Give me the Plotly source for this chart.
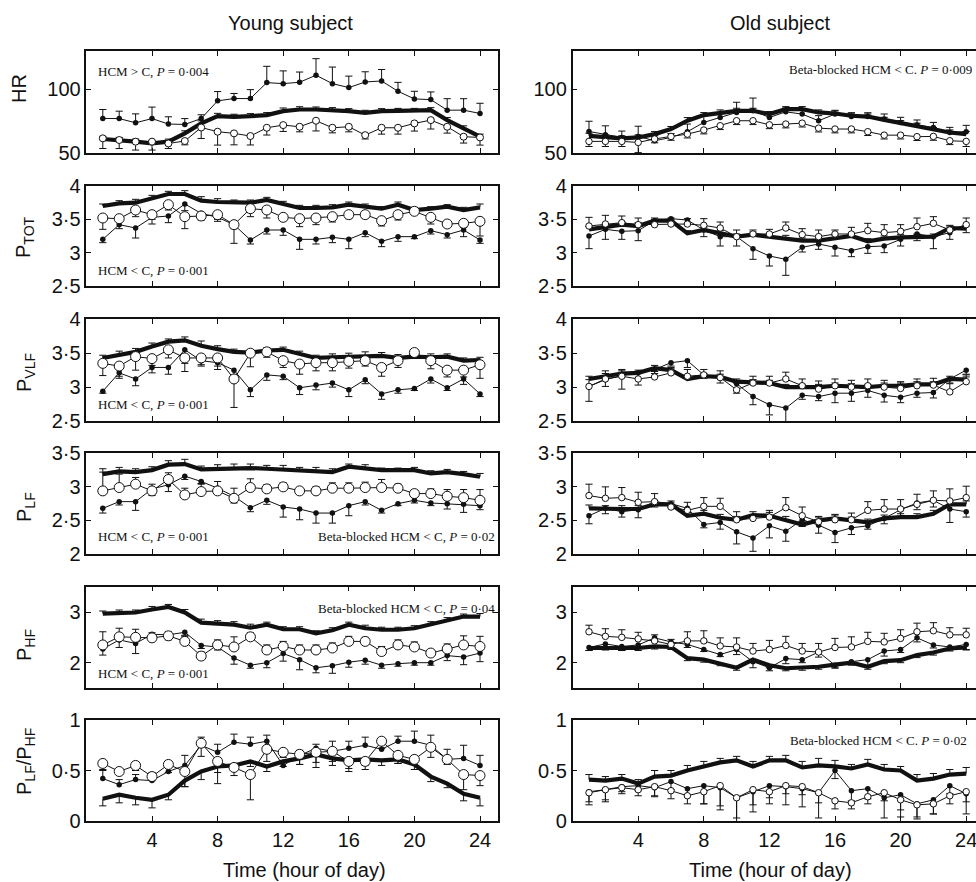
import plotly.graph_objects as go

HOURS = list(range(1, 25))
X_TICKS = [4, 8, 12, 16, 20, 24]
X_TICK_TEXT = ["4", "8", "12", "16", "20", "24"]

COLUMN_TITLES = ["Young subject", "Old subject"]
X_TITLE = "Time (hour of day)"
ROW_TITLES = ["HR", "P<sub>TOT</sub>", "P<sub>VLF</sub>", "P<sub>LF</sub>", "P<sub>HF</sub>",
              "P<sub>LF</sub>/P<sub>HF</sub>"]
Y_TICKS = [[50, 100], [2.5, 3, 3.5, 4], [2.5, 3, 3.5, 4], [2, 2.5, 3, 3.5], [2, 3], [0, 0.5, 1]]
Y_TICK_TEXT = [["50", "100"], ["2·5", "3", "3·5", "4"], ["2·5", "3", "3·5", "4"],
               ["2", "2·5", "3", "3·5"], ["2", "3"], ["0", "0·5", "1"]]
Y_RANGES = [[50, 130], [2.5, 4], [2.5, 4], [2, 3.5], [1.5, 3.5], [0, 1]]

# ---------------- HR ----------------
YOUNG_HR_C = [61, 60.2, 58.9, 57.5, 58.9, 65.4, 73.2, 78.9, 78.4, 78.9, 79.7, 82.8, 84.1, 84.1, 83.6, 82.8, 81.5, 82.8, 83, 83, 83.6, 75.8, 69.3, 62.8]
YOUNG_HR_C_ERR = [1.8, 2, 2, 2, 2, 2, 2, 2.2, 2, 2, 2, 2.5, 2.2, 2, 2, 2, 2, 2, 2, 2, 2, 2, 2, 2]
YOUNG_HR_HCM = [77.1, 77, 73.7, 77, 72.7, 72.4, 77, 90.9, 92.7, 92.7, 105.2, 104.4, 105.5, 111, 104.4, 101.3, 105.7, 106.5, 98.4, 92.4, 91.9, 83.6, 83.6, 81]
YOUNG_HR_HCM_ERR = [7, 5.8, 7, 9, 5.7, 4.6, 3, 7.3, 4, 7, 12.8, 10, 8, 13, 13, 9, 8, 9, 7, 6, 6, 9, 9, 8]
YOUNG_HR_BB = [61.5, 60.2, 58.9, 58.9, 57.5, 59.4, 70, 66.7, 65.4, 63.3, 69.8, 71.9, 70.6, 75.3, 69.8, 70.6, 64, 69.8, 69.8, 73.2, 75.8, 70.6, 62.8, 62.2]
YOUNG_HR_BB_ERR = [8, 6.7, 6.6, 6.6, 4, 3, 8.6, 10.5, 9, 7, 5.7, 5, 4, 8, 4, 4, 3, 5, 5, 6, 7, 5, 5, 6]

OLD_HR_C = [63.5, 62.2, 61.5, 62.2, 64.8, 68.8, 75.3, 79.7, 81.8, 83.1, 83.1, 80.5, 84.4, 84.4, 81.8, 81, 79.2, 78.6, 76, 73.4, 71.4, 68, 66.1, 64.8]
OLD_HR_C_ERR = [2, 2, 2, 2, 2, 2, 2.5, 2, 2, 2, 2, 2, 2, 2, 2, 2, 2, 2, 2, 2, 2, 2, 2, 2]
OLD_HR_HCM = [66.9, 64.3, 62.2, 63, 59.6, 62.2, 66.7, 74, 77.9, 81.8, 83.1, 77.9, 82.3, 80.5, 75.3, 80.5, 78.6, 78.6, 76.6, 74, 71.9, 70, 66.1, 66.7]
OLD_HR_HCM_ERR = [8, 7, 5, 8, 4, 3, 6, 5, 3, 8, 10, 4, 3, 3, 4, 3, 3, 3, 4, 4, 4, 4, 4, 5]
OLD_HR_BB = [59.1, 59.1, 59.1, 58.3, 61, 63, 64.8, 68, 71.4, 75.3, 75.3, 72.1, 72.7, 73.4, 69.5, 68.8, 68.8, 66.7, 64, 64, 62.8, 63, 59.6, 59.1]
OLD_HR_BB_ERR = [4, 4, 4, 8, 3, 3, 3, 3, 3, 3, 3, 3, 3, 3, 3, 3, 3, 3, 3, 3, 3, 3, 3, 4]

# ---------------- P_TOT ----------------
YOUNG_PTOT_C = [3.70, 3.74, 3.75, 3.81, 3.88, 3.88, 3.78, 3.76, 3.75, 3.75, 3.79, 3.73, 3.67, 3.67, 3.68, 3.72, 3.69, 3.66, 3.72, 3.64, 3.66, 3.69, 3.64, 3.68]
YOUNG_PTOT_C_ERR = [0.03, 0.04, 0.05, 0.05, 0.04, 0.05, 0.06, 0.05, 0.04, 0.04, 0.04, 0.04, 0.04, 0.04, 0.04, 0.04, 0.04, 0.03, 0.04, 0.04, 0.03, 0.03, 0.04, 0.05]
YOUNG_PTOT_HCM = [3.2, 3.42, 3.37, 3.53, 3.55, 3.73, 3.59, 3.53, 3.42, 3.19, 3.34, 3.34, 3.2, 3.2, 3.23, 3.2, 3.3, 3.17, 3.24, 3.24, 3.33, 3.27, 3.34, 3.19]
YOUNG_PTOT_HCM_ERR = [0.05, 0.06, 0.15, 0.1, 0.1, 0.1, 0.06, 0.06, 0.06, 0.06, 0.06, 0.08, 0.15, 0.07, 0.08, 0.14, 0.06, 0.08, 0.07, 0.03, 0.05, 0.05, 0.1, 0.05]
YOUNG_PTOT_BB = [3.52, 3.51, 3.64, 3.57, 3.72, 3.54, 3.55, 3.57, 3.42, 3.66, 3.64, 3.53, 3.51, 3.52, 3.54, 3.57, 3.57, 3.48, 3.57, 3.62, 3.53, 3.43, 3.44, 3.47]
YOUNG_PTOT_BB_ERR = [0.17, 0.04, 0.1, 0.07, 0.08, 0.18, 0.06, 0.07, 0.28, 0.12, 0.12, 0.05, 0.12, 0.1, 0.08, 0.06, 0.05, 0.08, 0.08, 0.04, 0.1, 0.05, 0.06, 0.22]

OLD_PTOT_C = [3.35, 3.38, 3.42, 3.40, 3.48, 3.48, 3.29, 3.34, 3.29, 3.24, 3.27, 3.24, 3.22, 3.18, 3.18, 3.22, 3.25, 3.17, 3.21, 3.23, 3.24, 3.24, 3.37, 3.36]
OLD_PTOT_C_ERR = [0.04, 0.04, 0.04, 0.05, 0.04, 0.04, 0.04, 0.04, 0.04, 0.04, 0.04, 0.04, 0.04, 0.04, 0.04, 0.04, 0.04, 0.04, 0.04, 0.04, 0.04, 0.04, 0.04, 0.04]
OLD_PTOT_HCM = [3.25, 3.35, 3.32, 3.33, 3.48, 3.51, 3.49, 3.34, 3.24, 3.24, 3.06, 2.95, 2.9, 3.08, 3.13, 3.08, 3.03, 3.09, 3.1, 3.2, 3.28, 3.24, 3.3, 3.42]
OLD_PTOT_HCM_ERR = [0.19, 0.15, 0.12, 0.15, 0.05, 0.05, 0.06, 0.1, 0.14, 0.14, 0.16, 0.15, 0.24, 0.07, 0.08, 0.13, 0.09, 0.1, 0.1, 0.1, 0.1, 0.18, 0.1, 0.12]
OLD_PTOT_BB = [3.40, 3.43, 3.45, 3.42, 3.42, 3.43, 3.43, 3.41, 3.37, 3.24, 3.28, 3.28, 3.37, 3.27, 3.24, 3.28, 3.28, 3.33, 3.30, 3.32, 3.39, 3.44, 3.34, 3.42]
OLD_PTOT_BB_ERR = [0.13, 0.13, 0.1, 0.1, 0.08, 0.06, 0.08, 0.1, 0.09, 0.1, 0.06, 0.07, 0.09, 0.09, 0.1, 0.06, 0.1, 0.11, 0.12, 0.1, 0.13, 0.1, 0.06, 0.1]

# ---------------- P_VLF ----------------
YOUNG_PVLF_C = [3.43, 3.48, 3.52, 3.60, 3.67, 3.69, 3.61, 3.56, 3.52, 3.51, 3.54, 3.55, 3.49, 3.43, 3.44, 3.45, 3.46, 3.46, 3.43, 3.45, 3.44, 3.45, 3.39, 3.40]
YOUNG_PVLF_C_ERR = [0.04, 0.05, 0.05, 0.05, 0.04, 0.05, 0.07, 0.05, 0.04, 0.04, 0.04, 0.04, 0.04, 0.04, 0.05, 0.05, 0.06, 0.05, 0.05, 0.04, 0.05, 0.04, 0.04, 0.04]
YOUNG_PVLF_HCM = [2.94, 3.21, 3.12, 3.29, 3.29, 3.55, 3.39, 3.36, 3.25, 2.96, 3.18, 3.16, 2.99, 3.03, 3.06, 2.96, 3.11, 2.9, 2.96, 2.98, 3.12, 2.99, 3.12, 2.9]
YOUNG_PVLF_HCM_ERR = [0.03, 0.05, 0.1, 0.08, 0.1, 0.2, 0.08, 0.1, 0.1, 0.1, 0.08, 0.05, 0.1, 0.07, 0.06, 0.1, 0.06, 0.08, 0.05, 0.03, 0.06, 0.04, 0.08, 0.04]
YOUNG_PVLF_BB = [3.35, 3.31, 3.45, 3.42, 3.55, 3.43, 3.43, 3.43, 3.12, 3.5, 3.52, 3.39, 3.34, 3.36, 3.36, 3.38, 3.39, 3.29, 3.39, 3.51, 3.39, 3.25, 3.25, 3.33]
YOUNG_PVLF_BB_ERR = [0.18, 0.18, 0.2, 0.1, 0.12, 0.2, 0.1, 0.12, 0.42, 0.2, 0.08, 0.1, 0.15, 0.12, 0.12, 0.1, 0.08, 0.13, 0.1, 0.05, 0.12, 0.1, 0.1, 0.2]

OLD_PVLF_C = [3.12, 3.16, 3.2, 3.21, 3.28, 3.25, 3.12, 3.16, 3.15, 3.08, 3.07, 3.06, 3.0, 3.0, 3.0, 3.02, 3.01, 3.0, 3.02, 3.02, 3.04, 3.04, 3.12, 3.11]
OLD_PVLF_C_ERR = [0.04, 0.04, 0.04, 0.04, 0.04, 0.04, 0.04, 0.04, 0.04, 0.04, 0.04, 0.04, 0.04, 0.04, 0.04, 0.04, 0.04, 0.04, 0.04, 0.04, 0.04, 0.04, 0.04, 0.04]
OLD_PVLF_HCM = [3.01, 3.11, 3.17, 3.21, 3.26, 3.36, 3.39, 3.18, 3.16, 3.05, 2.86, 2.74, 2.69, 2.88, 2.86, 2.91, 2.91, 2.95, 2.88, 2.85, 2.91, 2.92, 3.12, 3.25]
OLD_PVLF_HCM_ERR = [0.22, 0.1, 0.2, 0.18, 0.06, 0.05, 0.1, 0.05, 0.1, 0.14, 0.12, 0.15, 0.25, 0.06, 0.06, 0.14, 0.12, 0.1, 0.1, 0.08, 0.06, 0.08, 0.06, 0.06]
OLD_PVLF_BB = [3.01, 3.12, 3.16, 3.12, 3.15, 3.21, 3.16, 3.18, 3.14, 2.96, 3.06, 3.06, 3.12, 3.02, 2.97, 3.02, 3.0, 3.02, 3.0, 2.98, 3.02, 3.03, 2.93, 3.08]
OLD_PVLF_BB_ERR = [0.1, 0.12, 0.1, 0.1, 0.08, 0.06, 0.1, 0.08, 0.1, 0.1, 0.1, 0.1, 0.1, 0.1, 0.12, 0.1, 0.1, 0.1, 0.1, 0.1, 0.1, 0.1, 0.12, 0.1]

# ---------------- P_LF ----------------
YOUNG_PLF_C = [3.19, 3.23, 3.22, 3.25, 3.33, 3.34, 3.26, 3.27, 3.28, 3.28, 3.27, 3.26, 3.24, 3.24, 3.22, 3.3, 3.28, 3.25, 3.25, 3.25, 3.2, 3.22, 3.19, 3.15]
YOUNG_PLF_C_ERR = [0.08, 0.06, 0.05, 0.05, 0.06, 0.07, 0.05, 0.06, 0.06, 0.06, 0.05, 0.06, 0.05, 0.05, 0.05, 0.04, 0.05, 0.03, 0.03, 0.04, 0.04, 0.04, 0.04, 0.05]
YOUNG_PLF_HCM = [2.68, 2.78, 2.78, 2.97, 3.03, 3.16, 3.08, 2.98, 2.86, 2.69, 2.8, 2.7, 2.67, 2.61, 2.61, 2.72, 2.78, 2.65, 2.75, 2.8, 2.76, 2.75, 2.74, 2.72]
YOUNG_PLF_HCM_ERR = [0.07, 0.05, 0.13, 0.1, 0.1, 0.05, 0.04, 0.08, 0.1, 0.06, 0.06, 0.15, 0.16, 0.15, 0.15, 0.15, 0.05, 0.04, 0.03, 0.04, 0.04, 0.08, 0.12, 0.06]
YOUNG_PLF_BB = [2.94, 2.99, 3.04, 2.94, 3.11, 2.88, 2.93, 2.94, 2.83, 2.99, 2.97, 3.0, 2.94, 2.94, 2.98, 2.98, 2.99, 2.99, 2.98, 2.9, 2.9, 2.86, 2.84, 2.8]
YOUNG_PLF_BB_ERR = [0.28, 0.2, 0.1, 0.1, 0.1, 0.1, 0.12, 0.14, 0.15, 0.13, 0.06, 0.06, 0.04, 0.06, 0.08, 0.08, 0.08, 0.12, 0.06, 0.05, 0.07, 0.1, 0.12, 0.16]

OLD_PLF_C = [2.68, 2.67, 2.67, 2.67, 2.74, 2.74, 2.57, 2.6, 2.54, 2.51, 2.58, 2.57, 2.51, 2.44, 2.5, 2.53, 2.5, 2.47, 2.53, 2.55, 2.55, 2.6, 2.74, 2.74]
OLD_PLF_C_ERR = [0.05, 0.05, 0.05, 0.05, 0.05, 0.05, 0.05, 0.05, 0.05, 0.05, 0.05, 0.05, 0.05, 0.05, 0.05, 0.05, 0.05, 0.05, 0.05, 0.05, 0.05, 0.05, 0.05, 0.05]
OLD_PLF_HCM = [2.57, 2.68, 2.63, 2.66, 2.78, 2.75, 2.68, 2.44, 2.47, 2.33, 2.24, 2.42, 2.34, 2.51, 2.43, 2.32, 2.39, 2.42, 2.53, 2.66, 2.76, 2.8, 2.67, 2.63]
OLD_PLF_HCM_ERR = [0.12, 0.08, 0.08, 0.12, 0.08, 0.06, 0.06, 0.05, 0.1, 0.18, 0.2, 0.18, 0.15, 0.1, 0.12, 0.15, 0.1, 0.05, 0.08, 0.1, 0.1, 0.1, 0.2, 0.08]
OLD_PLF_BB = [2.87, 2.83, 2.84, 2.77, 2.78, 2.7, 2.65, 2.71, 2.71, 2.51, 2.53, 2.55, 2.69, 2.57, 2.48, 2.51, 2.51, 2.65, 2.67, 2.67, 2.74, 2.8, 2.79, 2.84]
OLD_PLF_BB_ERR = [0.17, 0.17, 0.15, 0.15, 0.12, 0.06, 0.12, 0.13, 0.12, 0.12, 0.05, 0.1, 0.15, 0.13, 0.08, 0.08, 0.1, 0.13, 0.14, 0.14, 0.15, 0.14, 0.18, 0.17]

# ---------------- P_HF ----------------
YOUNG_PHF_C = [2.97, 2.99, 2.99, 3.05, 3.1, 2.99, 2.79, 2.77, 2.75, 2.69, 2.75, 2.66, 2.66, 2.58, 2.64, 2.75, 2.68, 2.65, 2.65, 2.68, 2.76, 2.84, 2.91, 2.91]
YOUNG_PHF_C_ERR = [0.05, 0.05, 0.05, 0.06, 0.05, 0.06, 0.07, 0.06, 0.06, 0.07, 0.05, 0.05, 0.05, 0.05, 0.05, 0.05, 0.06, 0.05, 0.05, 0.05, 0.05, 0.05, 0.05, 0.06]
YOUNG_PHF_HCM = [2.27, 2.45, 2.38, 2.56, 2.55, 2.6, 2.34, 2.31, 2.09, 1.95, 2.0, 2.18, 2.06, 1.9, 1.94, 2.01, 2.05, 1.95, 1.98, 2.0, 2.0, 2.14, 2.11, 2.19]
YOUNG_PHF_HCM_ERR = [0.12, 0.15, 0.2, 0.1, 0.1, 0.06, 0.06, 0.06, 0.12, 0.06, 0.1, 0.15, 0.2, 0.1, 0.15, 0.1, 0.08, 0.06, 0.05, 0.05, 0.05, 0.1, 0.15, 0.17]
YOUNG_PHF_BB = [2.35, 2.51, 2.5, 2.49, 2.53, 2.42, 2.13, 2.35, 2.31, 2.51, 2.25, 2.32, 2.25, 2.25, 2.29, 2.42, 2.42, 2.22, 2.35, 2.31, 2.19, 2.27, 2.35, 2.32]
YOUNG_PHF_BB_ERR = [0.26, 0.17, 0.16, 0.1, 0.08, 0.1, 0.08, 0.1, 0.2, 0.08, 0.1, 0.1, 0.1, 0.1, 0.1, 0.1, 0.08, 0.1, 0.1, 0.1, 0.06, 0.1, 0.18, 0.2]

OLD_PHF_C = [2.29, 2.3, 2.29, 2.29, 2.32, 2.31, 2.09, 2.06, 1.99, 1.9, 2.06, 1.95, 1.89, 1.9, 1.92, 1.96, 2.0, 1.92, 2.03, 2.05, 2.15, 2.2, 2.28, 2.3]
OLD_PHF_C_ERR = [0.05, 0.05, 0.05, 0.05, 0.05, 0.05, 0.05, 0.05, 0.05, 0.05, 0.05, 0.05, 0.05, 0.05, 0.05, 0.05, 0.05, 0.05, 0.05, 0.05, 0.05, 0.05, 0.05, 0.05]
OLD_PHF_HCM = [2.3, 2.37, 2.32, 2.35, 2.49, 2.41, 2.36, 2.26, 2.16, 2.26, 2.02, 1.9, 2.08, 2.06, 2.21, 1.95, 2.02, 2.06, 2.23, 2.26, 2.49, 2.35, 2.31, 2.36]
OLD_PHF_HCM_ERR = [0.06, 0.1, 0.08, 0.06, 0.06, 0.06, 0.06, 0.04, 0.04, 0.1, 0.12, 0.06, 0.1, 0.06, 0.1, 0.06, 0.04, 0.12, 0.1, 0.06, 0.08, 0.06, 0.06, 0.1]
OLD_PHF_BB = [2.61, 2.52, 2.5, 2.47, 2.43, 2.36, 2.43, 2.43, 2.33, 2.31, 2.23, 2.26, 2.34, 2.23, 2.21, 2.3, 2.31, 2.42, 2.41, 2.48, 2.61, 2.63, 2.55, 2.55]
OLD_PHF_BB_ERR = [0.13, 0.15, 0.15, 0.13, 0.12, 0.1, 0.18, 0.2, 0.16, 0.18, 0.15, 0.18, 0.18, 0.15, 0.17, 0.18, 0.2, 0.18, 0.17, 0.17, 0.17, 0.16, 0.14, 0.13]

# ---------------- P_LF / P_HF ----------------
YOUNG_LFHF_C = [0.22, 0.26, 0.23, 0.21, 0.26, 0.4, 0.49, 0.54, 0.55, 0.59, 0.54, 0.59, 0.62, 0.66, 0.62, 0.6, 0.61, 0.6, 0.61, 0.56, 0.44, 0.37, 0.27, 0.23]
YOUNG_LFHF_C_ERR = [0.07, 0.08, 0.07, 0.08, 0.05, 0.06, 0.08, 0.06, 0.04, 0.05, 0.05, 0.05, 0.06, 0.08, 0.07, 0.08, 0.06, 0.05, 0.04, 0.05, 0.05, 0.04, 0.07, 0.08]
YOUNG_LFHF_HCM = [0.42, 0.36, 0.41, 0.4, 0.49, 0.55, 0.75, 0.68, 0.78, 0.76, 0.79, 0.55, 0.65, 0.72, 0.69, 0.72, 0.75, 0.71, 0.79, 0.79, 0.75, 0.61, 0.62, 0.55]
YOUNG_LFHF_HCM_ERR = [0.08, 0.05, 0.05, 0.08, 0.05, 0.1, 0.08, 0.08, 0.08, 0.07, 0.06, 0.05, 0.05, 0.04, 0.1, 0.07, 0.08, 0.05, 0.05, 0.1, 0.1, 0.1, 0.13, 0.1]
YOUNG_LFHF_BB = [0.57, 0.49, 0.55, 0.44, 0.56, 0.49, 0.77, 0.59, 0.53, 0.46, 0.71, 0.68, 0.66, 0.68, 0.69, 0.59, 0.59, 0.79, 0.65, 0.61, 0.73, 0.61, 0.46, 0.45]
YOUNG_LFHF_BB_ERR = [0.06, 0.02, 0.05, 0.04, 0.08, 0.15, 0.13, 0.22, 0.08, 0.25, 0.12, 0.05, 0.1, 0.15, 0.1, 0.1, 0.08, 0.07, 0.08, 0.05, 0.1, 0.05, 0.15, 0.1]

OLD_LFHF_C = [0.41, 0.4, 0.42, 0.37, 0.44, 0.45, 0.5, 0.54, 0.58, 0.6, 0.54, 0.6, 0.6, 0.53, 0.55, 0.54, 0.52, 0.56, 0.51, 0.5, 0.4, 0.42, 0.46, 0.47]
OLD_LFHF_C_ERR = [0.05, 0.04, 0.04, 0.04, 0.06, 0.05, 0.05, 0.05, 0.04, 0.04, 0.05, 0.04, 0.05, 0.06, 0.07, 0.06, 0.04, 0.05, 0.05, 0.04, 0.06, 0.05, 0.05, 0.06]
OLD_LFHF_HCM = [0.29, 0.31, 0.34, 0.35, 0.33, 0.39, 0.32, 0.35, 0.33, 0.23, 0.29, 0.35, 0.34, 0.32, 0.28, 0.5, 0.3, 0.32, 0.23, 0.26, 0.17, 0.21, 0.35, 0.27]
OLD_LFHF_HCM_ERR = [0.1, 0.12, 0.05, 0.05, 0.08, 0.08, 0.06, 0.18, 0.22, 0.25, 0.2, 0.12, 0.18, 0.18, 0.25, 0.08, 0.1, 0.1, 0.2, 0.22, 0.15, 0.14, 0.08, 0.2]
OLD_LFHF_BB = [0.28, 0.31, 0.33, 0.31, 0.34, 0.3, 0.25, 0.29, 0.35, 0.23, 0.31, 0.29, 0.35, 0.34, 0.28, 0.2, 0.18, 0.24, 0.28, 0.21, 0.16, 0.17, 0.25, 0.29]
OLD_LFHF_BB_ERR = [0.12, 0.1, 0.06, 0.06, 0.1, 0.08, 0.08, 0.12, 0.2, 0.2, 0.15, 0.12, 0.08, 0.08, 0.1, 0.08, 0.06, 0.07, 0.08, 0.1, 0.12, 0.1, 0.08, 0.1]

# ---------------- panel notes ----------------
NOTE_HR_YOUNG = "HCM &gt; C, <i>P</i> = 0·004"
NOTE_HR_OLD = "Beta-blocked HCM &lt; C. <i>P</i> = 0·009"
NOTE_HCM_001 = "HCM &lt; C, <i>P</i> = 0·001"
NOTE_BB_02 = "Beta-blocked HCM &lt; C, <i>P</i> = 0·02"
NOTE_BB_04 = "Beta-blocked HCM &lt; C, <i>P</i> = 0·04"
NOTE_LFHF_OLD = "Beta-blocked HCM &lt; C. <i>P</i> = 0·02"

# (row, col, C, C err, C dir, HCM, HCM err, HCM dir, BB, BB err, BB dir)
PANELS = [
    (0, 0, YOUNG_HR_C, YOUNG_HR_C_ERR, 1, YOUNG_HR_HCM, YOUNG_HR_HCM_ERR, 1, YOUNG_HR_BB, YOUNG_HR_BB_ERR, -1),
    (0, 1, OLD_HR_C, OLD_HR_C_ERR, 1, OLD_HR_HCM, OLD_HR_HCM_ERR, 1, OLD_HR_BB, OLD_HR_BB_ERR, -1),
    (1, 0, YOUNG_PTOT_C, YOUNG_PTOT_C_ERR, 1, YOUNG_PTOT_HCM, YOUNG_PTOT_HCM_ERR, -1, YOUNG_PTOT_BB, YOUNG_PTOT_BB_ERR, -1),
    (1, 1, OLD_PTOT_C, OLD_PTOT_C_ERR, 1, OLD_PTOT_HCM, OLD_PTOT_HCM_ERR, -1, OLD_PTOT_BB, OLD_PTOT_BB_ERR, 1),
    (2, 0, YOUNG_PVLF_C, YOUNG_PVLF_C_ERR, 1, YOUNG_PVLF_HCM, YOUNG_PVLF_HCM_ERR, -1, YOUNG_PVLF_BB, YOUNG_PVLF_BB_ERR, -1),
    (2, 1, OLD_PVLF_C, OLD_PVLF_C_ERR, 1, OLD_PVLF_HCM, OLD_PVLF_HCM_ERR, -1, OLD_PVLF_BB, OLD_PVLF_BB_ERR, 1),
    (3, 0, YOUNG_PLF_C, YOUNG_PLF_C_ERR, 1, YOUNG_PLF_HCM, YOUNG_PLF_HCM_ERR, -1, YOUNG_PLF_BB, YOUNG_PLF_BB_ERR, 1),
    (3, 1, OLD_PLF_C, OLD_PLF_C_ERR, 1, OLD_PLF_HCM, OLD_PLF_HCM_ERR, -1, OLD_PLF_BB, OLD_PLF_BB_ERR, 1),
    (4, 0, YOUNG_PHF_C, YOUNG_PHF_C_ERR, 1, YOUNG_PHF_HCM, YOUNG_PHF_HCM_ERR, -1, YOUNG_PHF_BB, YOUNG_PHF_BB_ERR, 1),
    (4, 1, OLD_PHF_C, OLD_PHF_C_ERR, -1, OLD_PHF_HCM, OLD_PHF_HCM_ERR, -1, OLD_PHF_BB, OLD_PHF_BB_ERR, 1),
    (5, 0, YOUNG_LFHF_C, YOUNG_LFHF_C_ERR, -1, YOUNG_LFHF_HCM, YOUNG_LFHF_HCM_ERR, 1, YOUNG_LFHF_BB, YOUNG_LFHF_BB_ERR, -1),
    (5, 1, OLD_LFHF_C, OLD_LFHF_C_ERR, 1, OLD_LFHF_HCM, OLD_LFHF_HCM_ERR, -1, OLD_LFHF_BB, OLD_LFHF_BB_ERR, -1),
]

# ---------------- layout geometry (pixels) ----------------
# The original figure is cropped on the right: the page is drawn wider than the
# 976 px window and the overflow is clipped.
W, H = 996, 882
ROW_PX = [(51, 153), (186, 286), (319.3, 421), (453.3, 554), (586.7, 688), (720, 821)]
COL_PX = [(86.4, 498), (572.6, 983)]
PX_PER_HOUR = 16.4
CAP_HALF = 0.22  # hours

SANS = "Liberation Sans, Arial, sans-serif"
SERIF = "Liberation Serif, Times New Roman, serif"
BLACK = "#111111"


def err_segments(xs, ys, errs, sign):
    sx, sy = [], []
    for x, y, e in zip(xs, ys, errs):
        end = y + sign * e
        sx += [x, x, None, x - CAP_HALF, x + CAP_HALF, None]
        sy += [y, end, None, end, end, None]
    return sx, sy


fig = go.Figure()
layout_axes = {}

for (row, col, c, ce, cd, hcm, he, hd, bb, be, bd) in PANELS:
    n = row * 2 + col + 1
    xa = "x" if n == 1 else f"x{n}"
    ya = "y" if n == 1 else f"y{n}"
    x0, x1 = COL_PX[col]
    y0, y1 = ROW_PX[row]
    xrange = [0, (x1 - x0) / PX_PER_HOUR]
    open_size = (7 if row == 0 else 10) if col == 0 else 6.5

    ex, ey = err_segments(HOURS, c, ce, cd)
    fig.add_trace(go.Scatter(x=ex, y=ey, xaxis=xa, yaxis=ya, mode="lines",
                             line=dict(color=BLACK, width=1), hoverinfo="skip", showlegend=False))
    fig.add_trace(go.Scatter(x=HOURS, y=c, xaxis=xa, yaxis=ya, mode="lines",
                             line=dict(color=BLACK, width=4.2), name="C", showlegend=False))
    ex, ey = err_segments(HOURS, hcm, he, hd)
    fig.add_trace(go.Scatter(x=ex, y=ey, xaxis=xa, yaxis=ya, mode="lines",
                             line=dict(color=BLACK, width=1), hoverinfo="skip", showlegend=False))
    fig.add_trace(go.Scatter(x=HOURS, y=hcm, xaxis=xa, yaxis=ya, mode="lines+markers",
                             line=dict(color=BLACK, width=1),
                             marker=dict(symbol="circle", size=5.5, color=BLACK),
                             name="HCM", showlegend=False))
    ex, ey = err_segments(HOURS, bb, be, bd)
    fig.add_trace(go.Scatter(x=ex, y=ey, xaxis=xa, yaxis=ya, mode="lines",
                             line=dict(color=BLACK, width=1), hoverinfo="skip", showlegend=False))
    fig.add_trace(go.Scatter(x=HOURS, y=bb, xaxis=xa, yaxis=ya, mode="lines+markers",
                             line=dict(color=BLACK, width=1),
                             marker=dict(symbol="circle", size=open_size, color="white",
                                         line=dict(color=BLACK, width=1)),
                             name="Beta-blocked HCM", showlegend=False))

    layout_axes["xaxis" if n == 1 else f"xaxis{n}"] = dict(
        domain=[x0 / W, x1 / W], range=xrange, anchor=ya,
        showline=True, linecolor=BLACK, linewidth=1.5, mirror="ticks",
        ticks="inside", ticklen=5, tickcolor=BLACK, tickwidth=1,
        tickvals=X_TICKS, ticktext=X_TICK_TEXT, showticklabels=(row == 5),
        ticklabeloverflow="allow",
        tickfont=dict(family=SANS, size=20, color=BLACK),
        showgrid=False, zeroline=False, fixedrange=True, automargin=False)
    layout_axes["yaxis" if n == 1 else f"yaxis{n}"] = dict(
        domain=[1 - y1 / H, 1 - y0 / H], range=Y_RANGES[row], anchor=xa,
        showline=True, linecolor=BLACK, linewidth=1.5, mirror="ticks",
        ticks="inside", ticklen=5, tickcolor=BLACK, tickwidth=1,
        tickvals=Y_TICKS[row], ticktext=Y_TICK_TEXT[row],
        tickfont=dict(family=SANS, size=20, color=BLACK),
        showgrid=False, zeroline=False, fixedrange=True, automargin=False)

annotations = []
for txt, xc in zip(COLUMN_TITLES, [290, 780]):
    annotations.append(dict(text=txt, x=xc / W, y=1 - 23 / H, xref="paper", yref="paper",
                            showarrow=False, xanchor="center", yanchor="middle",
                            font=dict(family=SANS, size=20, color=BLACK)))
for xc in [304, 770]:
    annotations.append(dict(text=X_TITLE, x=xc / W, y=1 - 870 / H, xref="paper", yref="paper",
                            showarrow=False, xanchor="center", yanchor="middle",
                            font=dict(family=SANS, size=20, color=BLACK)))
ROW_TITLE_POS = [(19, 89), (25, 237), (25, 373), (25, 507), (25, 645), (25, 762)]
for txt, (xc, yc) in zip(ROW_TITLES, ROW_TITLE_POS):
    annotations.append(dict(text=txt, x=xc / W, y=1 - yc / H, xref="paper", yref="paper",
                            showarrow=False, xanchor="center", yanchor="middle", textangle=-90,
                            font=dict(family=SANS, size=20, color=BLACK)))
NOTES = [
    (96, 71, "left", NOTE_HR_YOUNG),
    (974, 70, "right", NOTE_HR_OLD),
    (96, 270, "left", NOTE_HCM_001),
    (96, 404, "left", NOTE_HCM_001),
    (96, 536, "left", NOTE_HCM_001),
    (497, 536, "right", NOTE_BB_02),
    (497, 608, "right", NOTE_BB_04),
    (96, 673, "left", NOTE_HCM_001),
    (969, 740, "right", NOTE_LFHF_OLD),
]
for xp, yp, anc, txt in NOTES:
    annotations.append(dict(text=txt, x=xp / W, y=1 - yp / H, xref="paper", yref="paper",
                            showarrow=False, xanchor=anc, yanchor="middle",
                            font=dict(family=SERIF, size=13, color=BLACK)))

fig.update_layout(
    width=W, height=H, autosize=False,
    margin=dict(l=0, r=0, t=0, b=0, pad=0),
    paper_bgcolor="white", plot_bgcolor="white",
    showlegend=False, annotations=annotations,
    **layout_axes,
)

fig.write_html(
    "out.html",
    config={"displayModeBar": False},
    post_script="document.documentElement.style.margin='0';document.body.style.margin='0';"
                "document.body.style.padding='0';document.body.style.overflow='hidden';"
                "document.documentElement.style.overflow='hidden';",
)
